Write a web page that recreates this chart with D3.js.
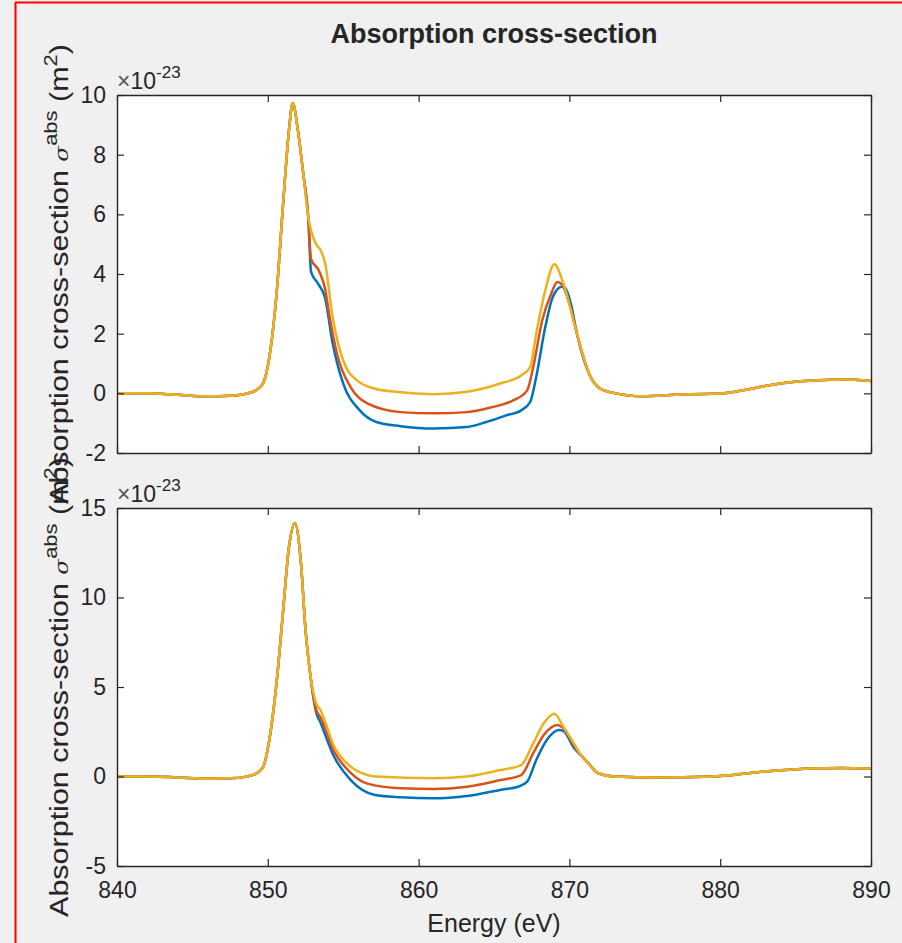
<!DOCTYPE html>
<html><head><meta charset="utf-8">
<script src="https://cdn.jsdelivr.net/npm/d3@7"></script>
<style>
html,body{margin:0;padding:0;background:#f0f0f0;}
svg{display:block;}
text{font-family:"Liberation Sans",Arial,Helvetica,sans-serif;fill:#262626;}
</style></head>
<body>
<svg id="chart" width="902" height="943"></svg>
<script>
// ---------- DATA ----------
const xTicks = [840, 850, 860, 870, 880, 890];
const yTicksTop = [-2, 0, 2, 4, 6, 8, 10];
const yTicksBot = [-5, 0, 5, 10, 15];
const seriesNames = ["blue", "red", "yellow"];
const seriesColors = ["#0072BD", "#D95319", "#EDB120"];

// top panel (values x1e-23 m^2), [energy eV, value]
const topShared = [[840,0.0],[842,0.0],[844,-0.05],[846,-0.1],[847.5,-0.08],[848.5,-0.02],[849.2,0.1],[849.7,0.35],[850.1,1.2],[850.6,3.45],[851.0,6.25],[851.4,8.8],[851.65,9.73],[852.0,8.8],[852.35,7.37],[852.68,5.92]];
const topBlueMid = [[852.87,4.07],[853.3,3.7],[853.8,3.2],[854.3,1.68],[855.0,0.33],[856.1,-0.57],[857.2,-0.96],[858.8,-1.1],[861,-1.18],[863.2,-1.13],[864.5,-0.96],[865.8,-0.74],[866.8,-0.57],[867.4,-0.29],[867.8,0.55],[868.4,2.22],[868.9,3.23],[869.5,3.57],[869.7,3.55],[870.1,3.0],[870.5,2.0]];
const topRedMid = [[852.87,4.5],[853.4,4.1],[853.8,3.5],[854.1,2.56],[854.6,1.3],[855.5,0.2],[856.6,-0.34],[858.8,-0.63],[861,-0.67],[863.2,-0.63],[864.9,-0.46],[866.3,-0.23],[867.2,0.1],[867.6,0.88],[868.2,2.45],[868.8,3.35],[869.2,3.73],[869.5,3.65],[870.0,3.0],[870.5,2.0]];
const topYellowMid = [[852.9,5.4],[853.2,5.0],[853.5,4.8],[853.8,4.36],[854.3,2.56],[855.0,1.1],[855.9,0.44],[857.0,0.17],[858.5,0.05],[861,-0.03],[863.2,0.05],[865.4,0.33],[866.8,0.6],[867.4,0.88],[867.8,2.0],[868.4,3.45],[869.0,4.33],[869.6,3.68],[870.5,2.0]];
const topTail = [[871.4,0.55],[872,0.17],[872.7,0.04],[874.9,-0.1],[877,-0.05],[879,-0.02],[880.4,0.01],[881.5,0.1],[882.6,0.21],[884.8,0.38],[886.5,0.44],[888.1,0.46],[890,0.41]];

// bottom panel
const botShared = [[840,0.0],[842,0.0],[844,-0.05],[846,-0.12],[847.5,-0.1],[848.5,-0.02],[849.2,0.15],[849.7,0.55],[850.1,2.04],[850.6,5.4],[851.0,9.1],[851.4,12.8],[851.8,14.15],[852.2,11.9],[852.5,8.2],[852.8,5.8]];
const botBlueMid = [[853.2,3.6],[853.5,3.0],[854.4,1.1],[855.5,-0.2],[857.1,-1.03],[858.8,-1.16],[861,-1.22],[863.2,-1.09],[865.4,-0.75],[866.6,-0.57],[867.2,-0.29],[867.8,0.92],[868.5,2.04],[869.3,2.6],[869.6,2.55],[870.3,1.6],[870.8,1.15]];
const botRedMid = [[853.2,3.75],[853.5,3.3],[854.4,1.4],[855.5,0.2],[856.6,-0.4],[858.8,-0.66],[861,-0.7],[863.2,-0.57],[865.4,-0.2],[866.8,0.08],[867.6,1.3],[868.3,2.32],[869.2,2.88],[869.6,2.7],[870.3,1.75],[870.8,1.15]];
const botYellowMid = [[853.2,4.1],[853.5,3.7],[854.4,1.67],[855.5,0.55],[856.6,0.08],[857.2,0.0],[861,-0.1],[863.2,0.0],[865.4,0.36],[866.8,0.64],[867.6,1.85],[868.3,2.97],[869.0,3.5],[869.6,2.78],[870.3,1.85],[870.8,1.15]];
const botTail = [[871.3,0.7],[871.9,0.18],[873,0.0],[876,-0.05],[879,-0.02],[880.5,0.05],[882,0.2],[884,0.35],[886,0.45],[888,0.48],[890,0.45]];

// ---------- BUILD ----------
const panels = [
  {yTicks: yTicksTop, ydom: [-2, 10], top: 95, bottom: 453,
   series: [topShared.concat(topBlueMid, topTail), topShared.concat(topRedMid, topTail), topShared.concat(topYellowMid, topTail)]},
  {yTicks: yTicksBot, ydom: [-5, 15], top: 508, bottom: 866,
   series: [botShared.concat(botBlueMid, botTail), botShared.concat(botRedMid, botTail), botShared.concat(botYellowMid, botTail)]}
];

const svg = d3.select("#chart");
const L = 117, R = 871;
const x = d3.scaleLinear().domain([840, 890]).range([L, R]);
const axisColor = "#262626";
const tickFont = 23;
const fmt = d => String(d);

// red frame (top and left)
svg.append("line").attr("x1",15.5).attr("x2",15.5).attr("y1",2).attr("y2",943).attr("stroke","#ff0000").attr("stroke-width",2);
svg.append("line").attr("x1",15).attr("x2",902).attr("y1",2.5).attr("y2",2.5).attr("stroke","#ff0000").attr("stroke-width",2);

panels.forEach((p, pi) => {
  const y = d3.scaleLinear().domain(p.ydom).range([p.bottom, p.top]);
  const g = svg.append("g");
  g.append("rect").attr("x", L).attr("y", p.top).attr("width", R - L).attr("height", p.bottom - p.top).attr("fill", "#fff");

  const clipId = "clip" + pi;
  g.append("clipPath").attr("id", clipId).append("rect").attr("x", L).attr("y", p.top).attr("width", R - L).attr("height", p.bottom - p.top);
  const line = d3.line().x(d => x(d[0])).y(d => y(d[1])).curve(d3.curveMonotoneX);
  p.series.forEach((s, si) => {
    g.append("path").datum(s).attr("d", line).attr("fill", "none")
      .attr("stroke", seriesColors[si]).attr("stroke-width", 2.5).attr("stroke-linejoin","round")
      .attr("clip-path", `url(#${clipId})`);
  });

  // axes
  const ax = d3.axisBottom(x).tickValues(xTicks).tickSize(-7).tickSizeOuter(0).tickPadding(16).tickFormat(fmt);
  const axT = d3.axisTop(x).tickValues(xTicks).tickSize(-7).tickSizeOuter(0).tickFormat("");
  const ay = d3.axisLeft(y).tickValues(p.yTicks).tickSize(-7).tickSizeOuter(0).tickPadding(11).tickFormat(fmt);
  const ayR = d3.axisRight(y).tickValues(p.yTicks).tickSize(-7).tickSizeOuter(0).tickFormat("");

  const gb = g.append("g").attr("transform", `translate(0,${p.bottom})`).call(ax);
  if (pi === 0) gb.selectAll(".tick text").remove();
  g.append("g").attr("transform", `translate(0,${p.top})`).call(axT);
  g.append("g").attr("transform", `translate(${L},0)`).call(ay);
  g.append("g").attr("transform", `translate(${R},0)`).call(ayR);
  g.selectAll(".domain").attr("stroke", axisColor).attr("stroke-width", 1.4);
  g.selectAll(".tick line").attr("stroke", axisColor).attr("stroke-width", 1.2);
  g.selectAll(".tick text").attr("font-size", tickFont).attr("fill", axisColor)
    .attr("font-family", '"Liberation Sans",Arial,sans-serif');

  // exponent label
  const ex = g.append("text").attr("x", L).attr("y", p.top - 6).attr("font-size", 23);
  ex.append("tspan").attr("font-weight","300").attr("fill","#555").text("\u00d7");
  ex.append("tspan").text("10");
  ex.append("tspan").attr("font-size", 17).attr("dy", -11).text("-23");

  // y label
  const cy = (p.top + p.bottom) / 2;
  const yl = g.append("text").attr("text-anchor", "middle").attr("font-size", 25)
    .attr("transform", `translate(68,${cy}) rotate(-90) scale(1.22,1)`);
  yl.append("tspan").text("Absorption cross-section ");
  yl.append("tspan").attr("font-style", "italic").attr("font-family","DejaVu Serif").attr("font-size",19).text("\u03c3");
  yl.append("tspan").attr("font-size", 18).attr("dy", -11).text("abs");
  yl.append("tspan").attr("dy", 11).text(" (m");
  yl.append("tspan").attr("font-size", 18).attr("dy", -11).text("2");
  yl.append("tspan").attr("dy", 11).text(")");
});

// title
svg.append("text").attr("x", (L + R) / 2).attr("y", 43).attr("text-anchor", "middle")
  .attr("font-size", 27).attr("font-weight", "bold").attr("fill","#000").text("Absorption cross-section");
// x label
svg.append("text").attr("x", (L + R) / 2).attr("y", 932).attr("text-anchor", "middle")
  .attr("font-size", 25).text("Energy (eV)");
</script>
</body></html>
